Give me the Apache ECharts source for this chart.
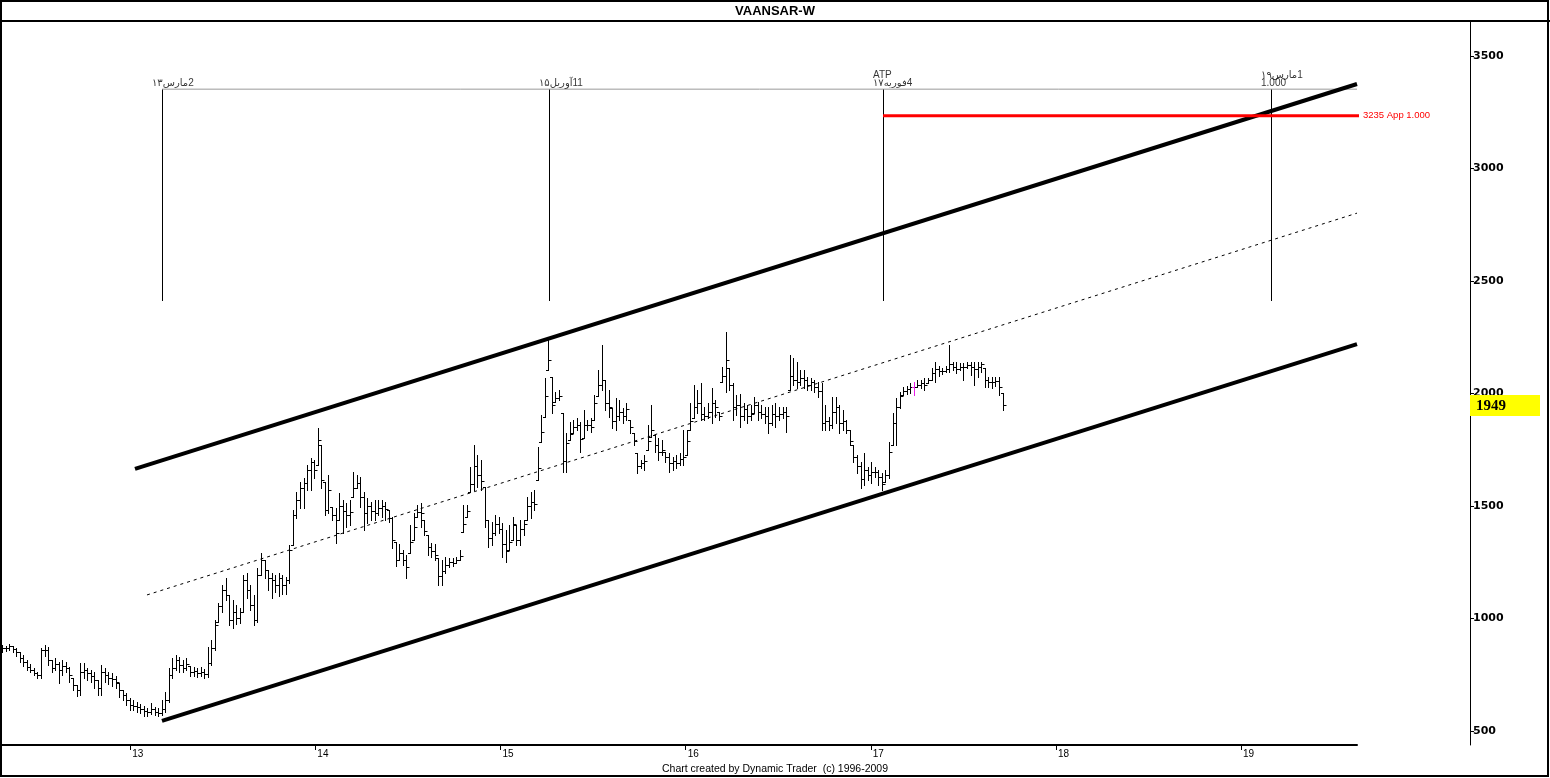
<!DOCTYPE html>
<html><head><meta charset="utf-8">
<script src="https://cdn.jsdelivr.net/npm/echarts@6/dist/echarts.min.js"></script>
<style>html,body{margin:0;padding:0;background:#fff}#c{width:1550px;height:778px}</style>
</head><body><div id="c"></div><script>
const chartTitle = 'VAANSAR-W';
const footerText = 'Chart created by Dynamic Trader  (c) 1996-2009';
const yearTicks = [13,14,15,16,17,18,19];
const priceTicks = [500,1000,1500,2000,2500,3000,3500];
const firstWeek = 12.3073;     // decimal year (yy) of the first weekly bar
const weekStep = 1/52.18;      // one week

const opens = [
875,869,869,878,865,852,825,807,785,771,
758,749,860,860,816,780,798,771,789,780,
736,705,683,763,771,758,745,727,691,763,
749,736,732,714,683,660,638,616,611,607,
598,589,585,598,585,580,598,638,749,780,
816,794,780,789,763,767,758,763,754,803,
869,985,1056,1127,1105,994,1029,1003,1029,1171,
1127,1060,994,1194,1260,1216,1180,1171,1149,1180,
1149,1171,1327,1460,1527,1580,1602,1660,1696,1683,
1771,1607,1483,1496,1460,1438,1500,1480,1460,1540,
1580,1602,1540,1469,1500,1480,1470,1491,1500,1483,
1447,1340,1260,1290,1260,1291,1349,1451,1474,1438,
1372,1320,1300,1269,1190,1210,1240,1250,1247,1260,
1385,1451,1563,1600,1680,1640,1585,1438,1360,1380,
1420,1400,1330,1305,1349,1416,1350,1400,1438,1500,
1520,1616,1785,1896,2105,2074,1963,1980,1914,1700,
1793,1825,1850,1860,1802,1860,1860,1882,1989,2040,
2060,1960,1936,1880,1900,1920,1900,1882,1825,1736,
1680,1690,1749,1807,1816,1770,1740,1740,1720,1690,
1700,1690,1710,1727,1838,1891,1940,1960,1910,1900,
1920,1960,1918,2051,2080,2114,2040,1940,1950,1900,
1930,1900,1914,1950,1920,1910,1900,1870,1910,1900,
1910,1920,2016,2080,2060,2050,2070,2060,2040,2050,
2030,2010,1870,1880,1860,1920,1940,1870,1880,1838,
1771,1720,1680,1620,1660,1640,1650,1650,1630,1607,
1640,1771,1870,1940,1994,2010,2020,2030,2030,2040,
2045,2047,2060,2090,2110,2100,2100,2110,2130,2120,
2110,2120,2120,2125,2120,2110,2120,2114,2060,2050,
2050,2055,2003];
const highs = [
883,878,887,878,869,852,838,816,798,780,
763,869,883,874,816,825,807,816,807,785,
736,705,803,803,780,771,763,727,794,780,
763,758,745,714,683,669,647,638,629,620,
611,602,625,607,602,638,674,780,825,838,
829,816,825,789,785,780,785,776,874,905,
994,1068,1149,1180,1105,1083,1060,1047,1194,1202,
1149,1105,1225,1291,1260,1216,1202,1194,1202,1194,
1185,1327,1483,1563,1607,1625,1683,1714,1705,1847,
1771,1607,1638,1496,1491,1558,1527,1514,1527,1651,
1638,1629,1563,1536,1518,1527,1527,1527,1518,1483,
1451,1340,1331,1305,1283,1416,1469,1505,1514,1438,
1372,1336,1331,1269,1260,1274,1269,1269,1274,1305,
1505,1505,1674,1771,1727,1705,1585,1438,1429,1460,
1451,1425,1394,1416,1451,1416,1438,1438,1540,1563,
1571,1762,1905,2069,2247,2074,2007,2016,1914,1825,
1874,1882,1891,1874,1927,1882,1891,1994,2105,2216,
2060,2016,1936,1980,1971,1936,1958,1882,1825,1736,
1705,1727,1860,1949,1816,1802,1793,1740,1736,1718,
1727,1736,1838,1838,1958,2038,2016,2047,1940,1958,
2025,1971,1918,2118,2273,2114,2047,1994,2000,1958,
1949,1949,1985,1963,1949,1940,1940,1949,1958,1940,
1940,1940,2171,2158,2140,2105,2105,2074,2069,2060,
2051,2047,1949,1896,1985,1985,1949,1927,1882,1838,
1771,1727,1696,1736,1674,1696,1674,1660,1647,1660,
1785,1914,1980,2007,2029,2034,2047,2051,2060,2060,
2069,2069,2114,2140,2123,2114,2123,2216,2140,2140,
2136,2136,2140,2140,2140,2140,2140,2114,2074,2074,
2074,2074,2003];
const lows = [
852,856,860,852,834,807,789,771,763,749,
736,736,834,794,763,771,714,749,763,718,
683,656,660,736,727,718,691,660,660,718,
709,700,691,651,638,616,593,593,585,580,
567,567,576,571,567,571,585,629,736,771,
763,763,771,745,745,740,745,736,740,794,
860,985,1029,1083,971,958,976,980,1029,1092,
1038,971,985,1194,1180,1127,1092,1118,1100,1109,
1109,1158,1327,1447,1491,1491,1571,1571,1625,1683,
1580,1460,1469,1438,1336,1438,1380,1407,1416,1540,
1580,1496,1394,1425,1438,1438,1460,1451,1438,1429,
1314,1233,1260,1238,1180,1291,1349,1451,1407,1372,
1283,1274,1260,1149,1149,1202,1229,1234,1247,1260,
1385,1451,1563,1571,1585,1571,1407,1318,1327,1372,
1380,1274,1251,1305,1349,1327,1327,1372,1438,1447,
1483,1616,1785,1896,2105,1914,1963,1971,1651,1651,
1793,1825,1838,1740,1802,1838,1829,1882,1989,2016,
1927,1896,1847,1838,1882,1869,1882,1825,1771,1647,
1669,1660,1749,1807,1740,1705,1727,1696,1651,1660,
1669,1683,1683,1727,1838,1891,1914,1882,1882,1891,
1869,1896,1882,2051,2007,2016,1882,1905,1851,1882,
1869,1882,1914,1882,1891,1869,1825,1860,1851,1882,
1891,1829,2016,2038,2025,2038,2025,2016,2016,2007,
1985,1838,1838,1838,1847,1869,1825,1838,1825,1771,
1696,1647,1580,1594,1616,1602,1629,1594,1571,1607,
1625,1771,1771,1936,1994,1998,2003,1994,2029,2025,
2016,2047,2060,2051,2078,2087,2096,2096,2105,2091,
2105,2060,2114,2083,2038,2074,2096,2029,2029,2025,
2034,1994,1927];
const closes = [
869,869,878,865,852,825,807,785,771,758,
749,860,860,816,780,798,771,789,780,749,
705,683,763,771,758,745,727,691,763,749,
736,732,718,683,660,638,616,611,607,598,
589,585,598,585,580,598,638,749,780,816,
794,780,798,763,767,758,763,754,803,869,
971,1056,1127,1105,994,1029,1003,1029,1171,1127,
1060,994,1194,1260,1216,1180,1171,1149,1180,1149,
1171,1305,1460,1527,1580,1602,1660,1696,1660,1793,
1616,1483,1571,1460,1380,1500,1480,1460,1474,1580,
1602,1540,1469,1500,1480,1470,1491,1500,1487,1447,
1350,1260,1290,1260,1230,1340,1407,1474,1470,1390,
1320,1300,1283,1190,1210,1240,1250,1245,1260,1280,
1420,1480,1600,1680,1640,1610,1440,1360,1380,1420,
1400,1330,1300,1340,1420,1350,1400,1420,1500,1520,
1510,1670,1830,1990,2150,1950,1980,1990,1700,1780,
1820,1850,1860,1800,1860,1860,1850,1960,2040,2060,
1960,1940,1880,1900,1920,1900,1930,1850,1790,1680,
1690,1700,1790,1840,1770,1740,1750,1720,1690,1700,
1690,1710,1720,1790,1880,1940,1960,1910,1900,1920,
1960,1940,1900,2080,2150,2040,1940,1950,1900,1930,
1900,1910,1950,1920,1910,1900,1870,1910,1900,1910,
1920,1900,2080,2060,2050,2070,2060,2040,2050,2030,
2010,1870,1880,1860,1920,1940,1870,1880,1840,1790,
1720,1680,1620,1660,1640,1650,1650,1630,1600,1640,
1740,1870,1940,1990,2010,2020,2030,2030,2040,2045,
2040,2060,2090,2110,2100,2100,2110,2130,2120,2110,
2120,2120,2125,2120,2110,2120,2130,2060,2050,2050,
2055,2030,1949];
const highlightBar = 257;

// channel (start, end) points: [decimal year, price]
const channelUpper = [[13.0257,1665],[19.6265,3376]];
const channelMiddle = [[13.0905,1105],[19.6265,2802]];
const channelLower = [[13.1715,545],[19.6265,2220]];

// time markers
const markerDates = [13.1715, 15.262, 17.0661, 19.162];
const markerTop = 3353, markerBottom = 2411;
const markerUpperRow = ['', '', 'ATP', '1مارس۱۹'];
const markerLowerRow = ['2مارس۱۳', '11آوریل۱۵', '4فوریه۱۷', '1.000'];
const targetLevel = 3235;
const targetEnd = 19.652;
const targetLabel = '3235 App 1.000';

const X_MIN = 12.2965, X_MAX = 19.6265, Y_MIN = 438, Y_MAX = 3656;
const FONT = "'Liberation Sans', 'DejaVu Sans', sans-serif";
const rtl = s => /[\u0600-\u06FF]/.test(s) ? '\u202B' + s + '\u202C' : s;

const bars = opens.map((o, i) => [firstWeek + i * weekStep, o, highs[i], lows[i], closes[i]]);

const chart = echarts.init(document.getElementById('c'), null, {renderer: 'canvas'});

function markerLabelSeries(rowTexts, dy) {
  return {
    type: 'scatter', symbolSize: 0, clip: false, silent: true, z: 6,
    data: markerDates.map((d, i) => ({value: [d, markerTop], label: {formatter: rtl(rowTexts[i])}})),
    label: {show: true, position: 'inside', align: 'left', verticalAlign: 'bottom',
            offset: [-10, dy], fontSize: 10, color: '#000', fontFamily: FONT}
  };
}

const option = {
  animation: false,
  backgroundColor: '#fff',
  grid: {left: 0, right: 193, top: 21, bottom: 33},
  xAxis: {
    type: 'value', min: X_MIN, max: X_MAX,
    axisLine: {show: true, lineStyle: {color: '#000', width: 2}},
    axisTick: {show: true, customValues: yearTicks, length: 5, lineStyle: {color: '#000'}},
    axisLabel: {customValues: yearTicks, formatter: v => String(Math.round(v)), color: '#000',
                fontSize: 10, fontFamily: FONT, align: 'left', margin: 4, padding: [0, 0, 0, 2]},
    splitLine: {show: false}
  },
  yAxis: {
    type: 'value', position: 'right', offset: 113, min: Y_MIN, max: Y_MAX,
    axisLine: {show: true, lineStyle: {color: '#000', width: 1}},
    axisTick: {show: true, customValues: priceTicks, length: 4, lineStyle: {color: '#000'}},
    axisLabel: {customValues: priceTicks, formatter: v => String(Math.round(v)), color: '#000',
                fontWeight: 'bold', fontSize: 11, fontFamily: "'DejaVu Sans', sans-serif", margin: 3},
    splitLine: {show: false}
  },
  series: [
    {
      type: 'custom', silent: true, z: 3,
      data: bars,
      encode: {x: 0, y: [1, 2, 3, 4]},
      renderItem: function (params, api) {
        const x = api.value(0);
        const pH = api.coord([x, api.value(2)]);
        const pL = api.coord([x, api.value(3)]);
        const pO = api.coord([x, api.value(1)]);
        const pC = api.coord([x, api.value(4)]);
        const cx = Math.round(pH[0]) + 0.5;
        const r = v => Math.round(v) + 0.5;
        const color = params.dataIndex === highlightBar ? '#e81ee8' : '#000';
        const st = {stroke: color, lineWidth: 1};
        return {type: 'group', children: [
          {type: 'line', shape: {x1: cx, y1: Math.round(pH[1]), x2: cx, y2: Math.round(pL[1]) + 1}, style: st},
          {type: 'line', shape: {x1: cx - 2.5, y1: r(pO[1]), x2: cx, y2: r(pO[1])}, style: st},
          {type: 'line', shape: {x1: cx, y1: r(pC[1]), x2: cx + 3, y2: r(pC[1])}, style: st}
        ]};
      }
    },
    {type: 'line', data: channelUpper, symbol: 'none', silent: true, z: 4,
     lineStyle: {color: '#000', width: 4}},
    {type: 'line', data: channelLower, symbol: 'none', silent: true, z: 4,
     lineStyle: {color: '#000', width: 4}},
    {type: 'line', data: channelMiddle, symbol: 'none', silent: true, z: 4,
     lineStyle: {color: '#000', width: 1, type: [3, 4]}},
    {type: 'line', data: [[markerDates[0], markerTop], [X_MAX, markerTop]], symbol: 'none', silent: true, z: 2,
     lineStyle: {color: '#9a9a9a', width: 1}},
    {
      type: 'custom', silent: true, z: 2,
      data: markerDates.map(d => [d, markerBottom, markerTop]),
      encode: {x: 0, y: [1, 2]},
      renderItem: function (params, api) {
        const p1 = api.coord([api.value(0), api.value(1)]);
        const p2 = api.coord([api.value(0), api.value(2)]);
        const x = Math.round(p1[0]) + 0.5;
        return {type: 'line', shape: {x1: x, y1: Math.round(p1[1]), x2: x, y2: Math.round(p2[1])},
                style: {stroke: '#000', lineWidth: 1}};
      }
    },
    {type: 'line', data: [[markerDates[2], targetLevel], [targetEnd, targetLevel]], symbol: 'none',
     silent: true, clip: false, z: 5,
     lineStyle: {color: '#ff0000', width: 3},
     endLabel: {show: true, formatter: targetLabel, color: '#ff0000', fontSize: 9.5,
                fontFamily: FONT, distance: 4}},
    markerLabelSeries(markerLowerRow, -1),
    markerLabelSeries(markerUpperRow, -9)
  ]
};
chart.setOption(option);

const lastClose = closes[closes.length - 1];
const yLast = chart.convertToPixel({yAxisIndex: 0}, lastClose);
chart.setOption({
  graphic: [
    {type: 'rect', shape: {x: 1, y: 1, width: 1547, height: 775}, style: {fill: 'none', stroke: '#000', lineWidth: 2}, z: 100},
    {type: 'line', shape: {x1: 0, y1: 21, x2: 1550, y2: 21}, style: {stroke: '#000', lineWidth: 2}, z: 100},
    {type: 'text', x: 775, y: 11, style: {text: chartTitle, font: "bold 13px 'Liberation Sans', sans-serif",
      fill: '#000', textAlign: 'center', textVerticalAlign: 'middle'}, z: 100},
    {type: 'text', x: 775, y: 769, style: {text: footerText, font: "10.5px 'Liberation Sans', sans-serif",
      fill: '#000', textAlign: 'center', textVerticalAlign: 'middle'}, z: 100},
    {type: 'rect', shape: {x: 1470, y: Math.round(yLast) - 10, width: 70, height: 21}, style: {fill: '#ffff00'}, z: 100},
    {type: 'text', x: 1476, y: Math.round(yLast) + 1, style: {text: String(lastClose),
      font: "bold 15px 'Liberation Serif', serif", fill: '#000', textAlign: 'left', textVerticalAlign: 'middle'}, z: 101}
  ]
});
</script></body></html>
